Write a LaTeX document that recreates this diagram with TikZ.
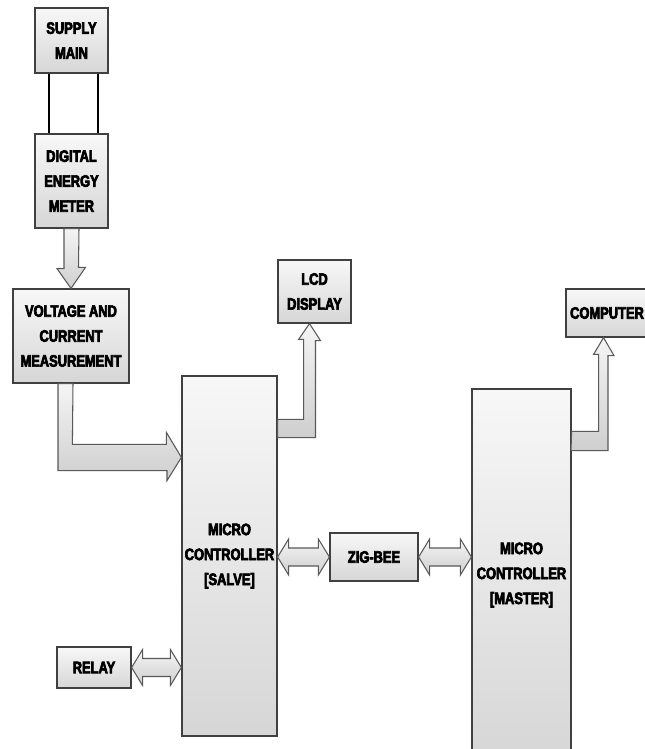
\documentclass[tikz,border=0pt]{standalone}
\usepackage{fontspec}
\setmainfont{Liberation Sans}[FakeStretch=0.78,BoldFont={Liberation Sans Bold},BoldFeatures={FakeBold=4}]
\usetikzlibrary{calc,shadows}

\tikzset{
  blk/.style={draw=black!75,line width=0.7pt,top color=gray!6,bottom color=gray!32,
    align=center,inner sep=0pt,font=\bfseries\fontsize{9.4}{14.2}\selectfont,
    drop shadow={shadow xshift=0.7pt,shadow yshift=-0.7pt,opacity=0.3}},
  blockarrow/.style={draw=black!65,line width=0.6pt,top color=gray!8,bottom color=gray!38},
  wire/.style={line width=1.2pt,black}
}
% fat two-headed arrow between two points on one line
\newcommand{\dblarrow}[2]{%
  \draw[blockarrow] (#1) -- ++(11,-18) -- ++(0,9) -- ($(#2)+(-11,-9)$) -- ++(0,-9) -- (#2)
    -- ++(-11,18) -- ++(0,-9) -- ($(#1)+(11,9)$) -- ++(0,9) -- cycle;}

\begin{document}
\begin{tikzpicture}[x=0.2mm,y=-0.2mm]
\clip (0,0) rectangle (645,749);
\fill[white] (0,0) rectangle (645,749);

\node[blk,minimum width=14.6mm,minimum height=13mm] (supply) at (71.5,40.5) {SUPPLY\\MAIN};
\node[blk,minimum width=14.6mm,minimum height=18.8mm] (dem) at (71.5,181) {DIGITAL\\ENERGY\\METER};
\node[blk,minimum width=23.2mm,minimum height=18.8mm] (vc) at (71,336) {VOLTAGE AND\\CURRENT\\MEASUREMENT};
\node[blk,minimum width=14.6mm,minimum height=12.6mm] (lcd) at (314.5,291.5) {LCD\\DISPLAY};
\node[blk,minimum width=19mm,minimum height=72mm] (salve) at (229.5,556) {MICRO\\CONTROLLER\\{[SALVE]}};
\node[blk,minimum width=17.6mm,minimum height=9.6mm] (zigbee) at (374,557) {ZIG-BEE};
\node[blk,minimum width=19.8mm,minimum height=74.4mm] (master) at (521.5,575) {MICRO\\CONTROLLER\\{[MASTER]}};
\node[blk,minimum width=16.4mm,minimum height=9.6mm] (computer) at (607,313) {COMPUTER};
\node[blk,minimum width=14.8mm,minimum height=8.2mm] (relay) at (94,667.5) {RELAY};

% supply wires
\draw[wire] ($(supply.south)+(-22.5,0)$) -- ($(dem.north)+(-22.5,0)$);
\draw[wire] ($(supply.south)+(26.5,0)$) -- ($(dem.north)+(26.5,0)$);

% meter to measurement
\draw[blockarrow] ($(dem.south)+(-7.5,0)$) -- ++(0,40) -- ++(-7,0) -- (vc.north)
  -- ($(vc.north)+(14.5,-21)$) -- ++(-7,0) -- ($(dem.south)+(7.5,0)$) -- cycle;

% measurement to slave
\draw[blockarrow] ($(vc.south)+(-13,0)$) -- ++(0,87) -- ++(109,0) -- ++(0,10)
  -- ($(salve.north west)+(0,82)$) -- ++(-15,-25) -- ++(0,12) -- ++(-94,0)
  -- ($(vc.south)+(2,0)$) -- cycle;

% slave to lcd
\draw[blockarrow] ($(salve.north east)+(0,44)$) -- ++(26,0) -- ++(0,-80) -- ++(-5,0)
  -- ($(lcd.south)+(-5,0)$) -- ++(11,17) -- ++(-5,0) -- ++(0,97) -- ++(-38,0) -- cycle;

% master to computer
\draw[blockarrow] ($(master.north east)+(0,43)$) -- ++(27,0) -- ++(0,-77) -- ++(-5,0)
  -- ($(computer.south)+(-3.5,0)$) -- ++(10.5,18) -- ++(-6,0) -- ++(0,95) -- ++(-37,0) -- cycle;

% two-way links
\dblarrow{salve.east |- zigbee.west}{zigbee.west}
\dblarrow{zigbee.east}{master.west |- zigbee.east}
\dblarrow{relay.east}{salve.west |- relay.east}
\end{tikzpicture}
\end{document}
